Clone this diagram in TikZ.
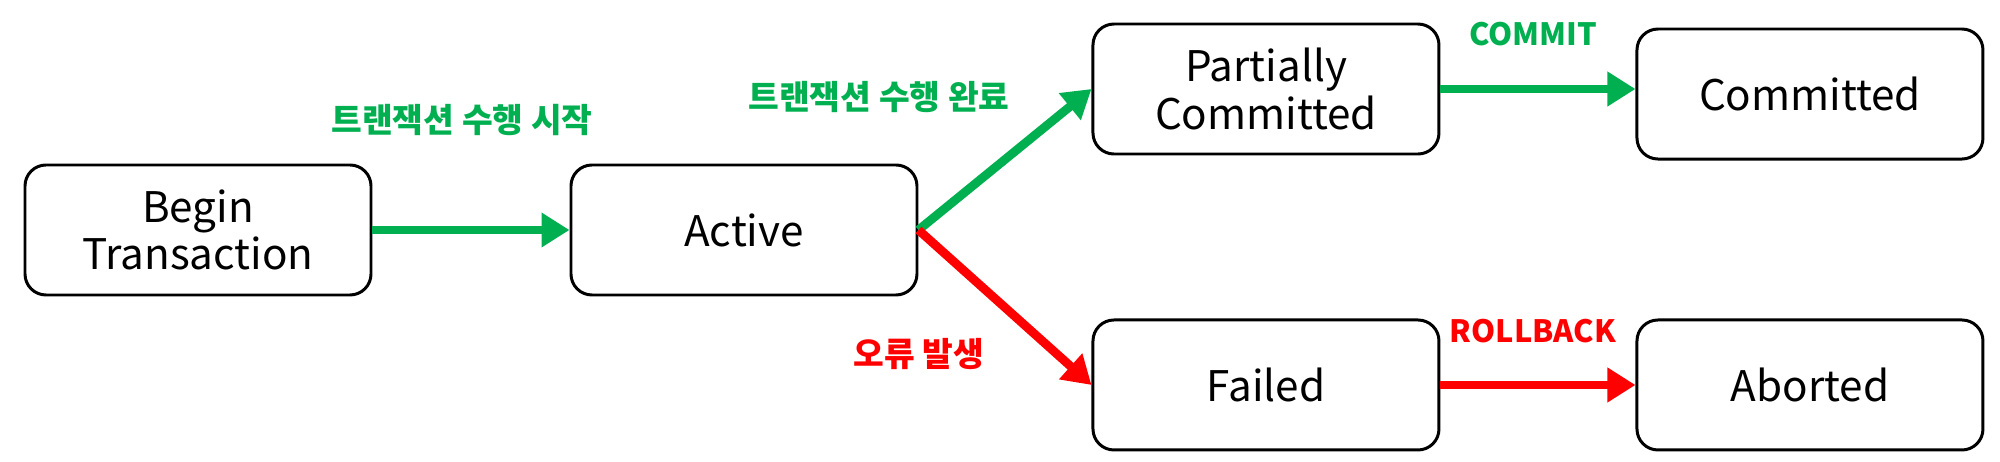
\documentclass[tikz,border=0pt]{standalone}
\usepackage{fontspec}
\setmainfont{Noto Sans CJK KR}
\usepackage{tikz}
\usetikzlibrary{positioning, arrows.meta}
\definecolor{StateGreen}{RGB}{0,176,80}
\definecolor{StateRed}{RGB}{255,0,0}

\begin{document}
\begin{tikzpicture}[
    font=\fontsize{24}{27}\selectfont,
    >=Latex,
    state/.style={
        draw,
        line width=1.7pt,
        rounded corners=0.42cm,
        align=center,
        minimum width=6.92cm,
        minimum height=2.6cm
    },
    lbl/.style={
        font=\fontsize{19}{22}\selectfont\bfseries,
        inner sep=0pt
    },
    cmdlbl/.style={
        font=\fontsize{17.5}{20}\selectfont\bfseries,
        inner sep=0pt
    },
    okarrow/.style={
        -{Triangle[length=0.56cm, width=0.66cm]},
        line width=5pt,
        StateGreen
    },
    failarrow/.style={
        -{Triangle[length=0.56cm, width=0.66cm]},
        line width=5pt,
        StateRed
    }
]
\useasboundingbox (0,0) rectangle (40,9.24);

% Begin and Active on the middle row
\node[state] (begin) at (3.96,4.64) {Begin\\Transaction};
\node[state, right=3.94cm of begin] (active) {Active};

% Success path on top, failure path below
\node[state, above right=0.16cm and 3.46cm of active] (partial) {Partially\\Committed};
\node[state, right=3.9cm of partial, yshift=-0.1cm] (committed) {Committed};
\node[state, below right=0.44cm and 3.46cm of active] (failed) {Failed};
\node[state, right=3.9cm of failed] (aborted) {Aborted};

% Transition labels
\node[lbl, StateGreen] (startlbl) at (9.24,6.84) {트랜잭션 수행 시작};
\node[lbl, StateGreen] (donelbl) at (17.58,7.30) {트랜잭션 수행 완료};
\node[lbl, StateRed] (errlbl) at (18.38,2.16) {오류 발생};
\node[cmdlbl, StateGreen] (commitlbl) at (30.66,8.56) {COMMIT};
\node[cmdlbl, StateRed] (rollbacklbl) at (30.66,2.62) {ROLLBACK};

% Transitions
\draw[okarrow] (begin) -- (active);
\draw[okarrow] (active.east) -- (partial.west);
\draw[failarrow] (active.east) -- (failed.west);
\draw[okarrow] (partial.east) -- (partial.east -| committed.west);
\draw[failarrow] (failed) -- (aborted);

\end{tikzpicture}
\end{document}
